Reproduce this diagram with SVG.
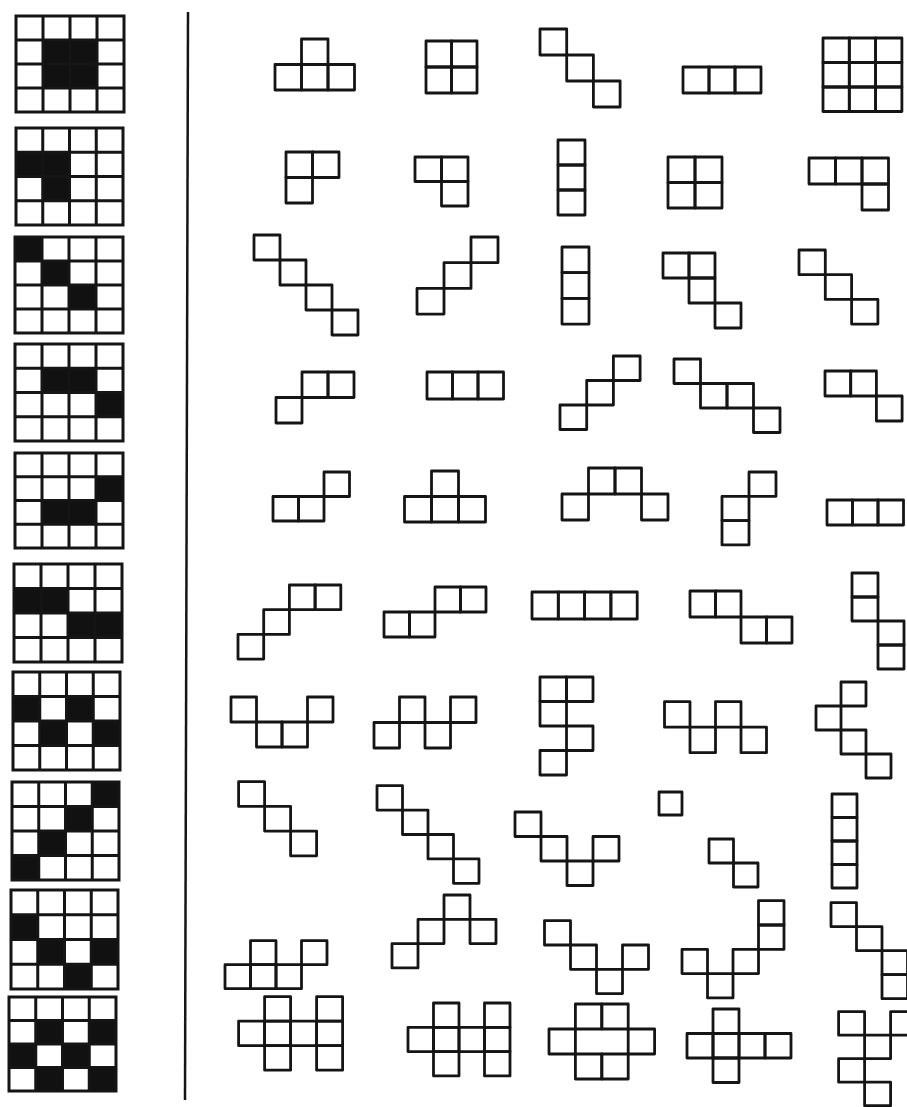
<svg xmlns="http://www.w3.org/2000/svg" width="907" height="1107" viewBox="0 0 907 1107">
<style>
.s{fill:none;stroke:#151515;stroke-width:2.8;vector-effect:non-scaling-stroke;stroke-linejoin:round}
.g{fill:none;stroke:#151515;stroke-width:3;vector-effect:non-scaling-stroke}
.b{fill:#111}
</style>
<defs>
<path id="gl" class="g" d="M0 0H4V4H0ZM1 0V4M2 0V4M3 0V4M0 1H4M0 2H4M0 3H4"/>
</defs>
<rect width="907" height="1107" fill="#fff"/>
<g id="grids">
<g id="g1" transform="translate(16,16) scale(27,24)"><rect class="b" x="1" y="1" width="2" height="2"/><use href="#gl"/></g>
<g id="g2" transform="translate(16,128) scale(26.75,24.25)"><rect class="b" x="0" y="1" width="2" height="1"/><rect class="b" x="1" y="2" width="1" height="1"/><use href="#gl"/></g>
<g id="g3" transform="translate(15,237) scale(27,24)"><rect class="b" x="0" y="0" width="1" height="1"/><rect class="b" x="1" y="1" width="1" height="1"/><rect class="b" x="2" y="2" width="1" height="1"/><use href="#gl"/></g>
<g id="g4" transform="translate(15,344) scale(27,24.25)"><rect class="b" x="1" y="1" width="2" height="1"/><rect class="b" x="3" y="2" width="1" height="1"/><use href="#gl"/></g>
<g id="g5" transform="translate(15,453) scale(27,23.75)"><rect class="b" x="3" y="1" width="1" height="1"/><rect class="b" x="1" y="2" width="2" height="1"/><use href="#gl"/></g>
<g id="g6" transform="translate(14,564) scale(27,24.5)"><rect class="b" x="0" y="1" width="2" height="1"/><rect class="b" x="2" y="2" width="2" height="1"/><use href="#gl"/></g>
<g id="g7" transform="translate(13,672) scale(26.75,24.5)"><rect class="b" x="0" y="1" width="1" height="1"/><rect class="b" x="2" y="1" width="1" height="1"/><rect class="b" x="1" y="2" width="1" height="1"/><rect class="b" x="3" y="2" width="1" height="1"/><use href="#gl"/></g>
<g id="g8" transform="translate(12,782) scale(26.75,24.5)"><rect class="b" x="3" y="0" width="1" height="1"/><rect class="b" x="2" y="1" width="1" height="1"/><rect class="b" x="1" y="2" width="1" height="1"/><rect class="b" x="0" y="3" width="1" height="1"/><use href="#gl"/></g>
<g id="g9" transform="translate(11,890) scale(26.75,24.75)"><rect class="b" x="0" y="1" width="1" height="1"/><rect class="b" x="1" y="2" width="1" height="1"/><rect class="b" x="3" y="2" width="1" height="1"/><rect class="b" x="2" y="3" width="1" height="1"/><use href="#gl"/></g>
<g id="g10" transform="translate(9,997) scale(26.75,23.5)"><rect class="b" x="1" y="1" width="1" height="1"/><rect class="b" x="3" y="1" width="1" height="1"/><rect class="b" x="0" y="2" width="1" height="1"/><rect class="b" x="2" y="2" width="1" height="1"/><rect class="b" x="1" y="3" width="1" height="1"/><rect class="b" x="3" y="3" width="1" height="1"/><use href="#gl"/></g>
</g>
<g id="divider"><line x1="188" y1="12" x2="185" y2="1100" stroke="#151515" stroke-width="2.5"/></g>
<g id="shapes">
<!-- row 1 -->
<g id="s1-1" transform="translate(275,39) scale(26.5,25.5)"><rect class="s" x="1" y="0" width="1" height="1"/><rect class="s" x="0" y="1" width="1" height="1"/><rect class="s" x="1" y="1" width="1" height="1"/><rect class="s" x="2" y="1" width="1" height="1"/></g>
<g id="s1-2" transform="translate(426,41) scale(25.5,26)"><rect class="s" x="0" y="0" width="1" height="1"/><rect class="s" x="1" y="0" width="1" height="1"/><rect class="s" x="0" y="1" width="1" height="1"/><rect class="s" x="1" y="1" width="1" height="1"/></g>
<g id="s1-3" transform="translate(540,29) scale(26.7,26)"><rect class="s" x="0" y="0" width="1" height="1"/><rect class="s" x="1" y="1" width="1" height="1"/><rect class="s" x="2" y="2" width="1" height="1"/></g>
<g id="s1-4" transform="translate(683,67) scale(26,26)"><rect class="s" x="0" y="0" width="1" height="1"/><rect class="s" x="1" y="0" width="1" height="1"/><rect class="s" x="2" y="0" width="1" height="1"/></g>
<g id="s1-5" transform="translate(823,38) scale(26.3,24.5)"><rect class="s" x="0" y="0" width="1" height="1"/><rect class="s" x="1" y="0" width="1" height="1"/><rect class="s" x="2" y="0" width="1" height="1"/><rect class="s" x="0" y="1" width="1" height="1"/><rect class="s" x="1" y="1" width="1" height="1"/><rect class="s" x="2" y="1" width="1" height="1"/><rect class="s" x="0" y="2" width="1" height="1"/><rect class="s" x="1" y="2" width="1" height="1"/><rect class="s" x="2" y="2" width="1" height="1"/></g>
<!-- row 2 -->
<g id="s2-1" transform="translate(286,152) scale(26.5,25.5)"><rect class="s" x="0" y="0" width="1" height="1"/><rect class="s" x="1" y="0" width="1" height="1"/><rect class="s" x="0" y="1" width="1" height="1"/></g>
<g id="s2-2" transform="translate(415,157) scale(26.5,24.5)"><rect class="s" x="0" y="0" width="1" height="1"/><rect class="s" x="1" y="0" width="1" height="1"/><rect class="s" x="1" y="1" width="1" height="1"/></g>
<g id="s2-3" transform="translate(558,140) scale(27,25)"><rect class="s" x="0" y="0" width="1" height="1"/><rect class="s" x="0" y="1" width="1" height="1"/><rect class="s" x="0" y="2" width="1" height="1"/></g>
<g id="s2-4" transform="translate(668,157) scale(27,25.5)"><rect class="s" x="0" y="0" width="1" height="1"/><rect class="s" x="1" y="0" width="1" height="1"/><rect class="s" x="0" y="1" width="1" height="1"/><rect class="s" x="1" y="1" width="1" height="1"/></g>
<g id="s2-5" transform="translate(809,158) scale(26.5,26)"><rect class="s" x="0" y="0" width="1" height="1"/><rect class="s" x="1" y="0" width="1" height="1"/><rect class="s" x="2" y="0" width="1" height="1"/><rect class="s" x="2" y="1" width="1" height="1"/></g>
<!-- row 3 -->
<g id="s3-1" transform="translate(254,235) scale(26,25)"><rect class="s" x="0" y="0" width="1" height="1"/><rect class="s" x="1" y="1" width="1" height="1"/><rect class="s" x="2" y="2" width="1" height="1"/><rect class="s" x="3" y="3" width="1" height="1"/></g>
<g id="s3-2" transform="translate(417,237) scale(27,25.7)"><rect class="s" x="2" y="0" width="1" height="1"/><rect class="s" x="1" y="1" width="1" height="1"/><rect class="s" x="0" y="2" width="1" height="1"/></g>
<g id="s3-3" transform="translate(562,247) scale(27,25.7)"><rect class="s" x="0" y="0" width="1" height="1"/><rect class="s" x="0" y="1" width="1" height="1"/><rect class="s" x="0" y="2" width="1" height="1"/></g>
<g id="s3-4" transform="translate(663,253) scale(26,25)"><rect class="s" x="0" y="0" width="1" height="1"/><rect class="s" x="1" y="0" width="1" height="1"/><rect class="s" x="1" y="1" width="1" height="1"/><rect class="s" x="2" y="2" width="1" height="1"/></g>
<g id="s3-5" transform="translate(799,250) scale(26.3,24.7)"><rect class="s" x="0" y="0" width="1" height="1"/><rect class="s" x="1" y="1" width="1" height="1"/><rect class="s" x="2" y="2" width="1" height="1"/></g>
<!-- row 4 -->
<g id="s4-1" transform="translate(276,372) scale(26,25.5)"><rect class="s" x="1" y="0" width="1" height="1"/><rect class="s" x="2" y="0" width="1" height="1"/><rect class="s" x="0" y="1" width="1" height="1"/></g>
<g id="s4-2" transform="translate(427,372) scale(25.5,27)"><rect class="s" x="0" y="0" width="1" height="1"/><rect class="s" x="1" y="0" width="1" height="1"/><rect class="s" x="2" y="0" width="1" height="1"/></g>
<g id="s4-3" transform="translate(560,356) scale(26.7,24.5)"><rect class="s" x="2" y="0" width="1" height="1"/><rect class="s" x="1" y="1" width="1" height="1"/><rect class="s" x="0" y="2" width="1" height="1"/></g>
<g id="s4-4" transform="translate(674,359) scale(26.5,24.5)"><rect class="s" x="0" y="0" width="1" height="1"/><rect class="s" x="1" y="1" width="1" height="1"/><rect class="s" x="2" y="1" width="1" height="1"/><rect class="s" x="3" y="2" width="1" height="1"/></g>
<g id="s4-5" transform="translate(825,371) scale(25.7,25)"><rect class="s" x="0" y="0" width="1" height="1"/><rect class="s" x="1" y="0" width="1" height="1"/><rect class="s" x="2" y="1" width="1" height="1"/></g>
<!-- row 5 -->
<g id="s5-1" transform="translate(273,472) scale(25.5,24.5)"><rect class="s" x="2" y="0" width="1" height="1"/><rect class="s" x="0" y="1" width="1" height="1"/><rect class="s" x="1" y="1" width="1" height="1"/></g>
<g id="s5-2" transform="translate(404.5,471) scale(27,25.5)"><rect class="s" x="1" y="0" width="1" height="1"/><rect class="s" x="0" y="1" width="1" height="1"/><rect class="s" x="1" y="1" width="1" height="1"/><rect class="s" x="2" y="1" width="1" height="1"/></g>
<g id="s5-3" transform="translate(562,468) scale(26.5,26)"><rect class="s" x="1" y="0" width="1" height="1"/><rect class="s" x="2" y="0" width="1" height="1"/><rect class="s" x="0" y="1" width="1" height="1"/><rect class="s" x="3" y="1" width="1" height="1"/></g>
<g id="s5-4" transform="translate(722,472) scale(27,24.3)"><rect class="s" x="1" y="0" width="1" height="1"/><rect class="s" x="0" y="1" width="1" height="1"/><rect class="s" x="0" y="2" width="1" height="1"/></g>
<g id="s5-5" transform="translate(827,500) scale(25.5,25)"><rect class="s" x="0" y="0" width="1" height="1"/><rect class="s" x="1" y="0" width="1" height="1"/><rect class="s" x="2" y="0" width="1" height="1"/></g>
<!-- row 6 -->
<g id="s6-1" transform="translate(238,585) scale(25.7,24.7)"><rect class="s" x="2" y="0" width="1" height="1"/><rect class="s" x="3" y="0" width="1" height="1"/><rect class="s" x="1" y="1" width="1" height="1"/><rect class="s" x="0" y="2" width="1" height="1"/></g>
<g id="s6-2" transform="translate(384,587) scale(25.5,25)"><rect class="s" x="2" y="0" width="1" height="1"/><rect class="s" x="3" y="0" width="1" height="1"/><rect class="s" x="0" y="1" width="1" height="1"/><rect class="s" x="1" y="1" width="1" height="1"/></g>
<g id="s6-3" transform="translate(532,592) scale(26.3,27)"><rect class="s" x="0" y="0" width="1" height="1"/><rect class="s" x="1" y="0" width="1" height="1"/><rect class="s" x="2" y="0" width="1" height="1"/><rect class="s" x="3" y="0" width="1" height="1"/></g>
<g id="s6-4" transform="translate(690,591) scale(25.5,26)"><rect class="s" x="0" y="0" width="1" height="1"/><rect class="s" x="1" y="0" width="1" height="1"/><rect class="s" x="2" y="1" width="1" height="1"/><rect class="s" x="3" y="1" width="1" height="1"/></g>
<g id="s6-5" transform="translate(852,573) scale(26,24)"><rect class="s" x="0" y="0" width="1" height="1"/><rect class="s" x="0" y="1" width="1" height="1"/><rect class="s" x="1" y="2" width="1" height="1"/><rect class="s" x="1" y="3" width="1" height="1"/></g>
<!-- row 7 -->
<g id="s7-1" transform="translate(231,697) scale(25.5,25)"><rect class="s" x="0" y="0" width="1" height="1"/><rect class="s" x="1" y="1" width="1" height="1"/><rect class="s" x="2" y="1" width="1" height="1"/><rect class="s" x="3" y="0" width="1" height="1"/></g>
<g id="s7-2" transform="translate(374,697) scale(25.5,25.5)"><rect class="s" x="0" y="1" width="1" height="1"/><rect class="s" x="1" y="0" width="1" height="1"/><rect class="s" x="2" y="1" width="1" height="1"/><rect class="s" x="3" y="0" width="1" height="1"/></g>
<g id="s7-3" transform="translate(540,677) scale(26.5,24.5)"><rect class="s" x="0" y="0" width="1" height="1"/><rect class="s" x="1" y="0" width="1" height="1"/><rect class="s" x="0" y="1" width="1" height="1"/><rect class="s" x="1" y="2" width="1" height="1"/><rect class="s" x="0" y="3" width="1" height="1"/></g>
<g id="s7-4" transform="translate(664.5,701.7) scale(25.5,25.5)"><rect class="s" x="0" y="0" width="1" height="1"/><rect class="s" x="1" y="1" width="1" height="1"/><rect class="s" x="2" y="0" width="1" height="1"/><rect class="s" x="3" y="1" width="1" height="1"/></g>
<g id="s7-5" transform="translate(816,682) scale(25,24)"><rect class="s" x="1" y="0" width="1" height="1"/><rect class="s" x="0" y="1" width="1" height="1"/><rect class="s" x="1" y="2" width="1" height="1"/><rect class="s" x="2" y="3" width="1" height="1"/></g>
<!-- row 8 -->
<g id="s8-1" transform="translate(238.6,781.7) scale(26,24.7)"><rect class="s" x="0" y="0" width="1" height="1"/><rect class="s" x="1" y="1" width="1" height="1"/><rect class="s" x="2" y="2" width="1" height="1"/></g>
<g id="s8-2" transform="translate(377,785.7) scale(25.5,24.4)"><rect class="s" x="0" y="0" width="1" height="1"/><rect class="s" x="1" y="1" width="1" height="1"/><rect class="s" x="2" y="2" width="1" height="1"/><rect class="s" x="3" y="3" width="1" height="1"/></g>
<g id="s8-3" transform="translate(515,812) scale(26,24.5)"><rect class="s" x="0" y="0" width="1" height="1"/><rect class="s" x="1" y="1" width="1" height="1"/><rect class="s" x="2" y="2" width="1" height="1"/><rect class="s" x="3" y="1" width="1" height="1"/></g>
<g id="s8-4"><rect class="s" x="659" y="792" width="23" height="23"/></g>
<g id="s8-5" transform="translate(709,839) scale(24.5,24)"><rect class="s" x="0" y="0" width="1" height="1"/><rect class="s" x="1" y="1" width="1" height="1"/></g>
<g id="s8-6" transform="translate(832,794) scale(25,23.5)"><rect class="s" x="0" y="0" width="1" height="1"/><rect class="s" x="0" y="1" width="1" height="1"/><rect class="s" x="0" y="2" width="1" height="1"/><rect class="s" x="0" y="3" width="1" height="1"/></g>
<!-- row 9 -->
<g id="s9-1" transform="translate(225,940.7) scale(25.5,24)"><rect class="s" x="1" y="0" width="1" height="1"/><rect class="s" x="3" y="0" width="1" height="1"/><rect class="s" x="0" y="1" width="1" height="1"/><rect class="s" x="1" y="1" width="1" height="1"/><rect class="s" x="2" y="1" width="1" height="1"/></g>
<g id="s9-2" transform="translate(392,895) scale(26,24.3)"><rect class="s" x="2" y="0" width="1" height="1"/><rect class="s" x="1" y="1" width="1" height="1"/><rect class="s" x="3" y="1" width="1" height="1"/><rect class="s" x="0" y="2" width="1" height="1"/></g>
<g id="s9-3" transform="translate(544.5,920.7) scale(26,24.3)"><rect class="s" x="0" y="0" width="1" height="1"/><rect class="s" x="1" y="1" width="1" height="1"/><rect class="s" x="2" y="2" width="1" height="1"/><rect class="s" x="3" y="1" width="1" height="1"/></g>
<g id="s9-4" transform="translate(682,900.7) scale(25.5,24.3)"><rect class="s" x="3" y="0" width="1" height="1"/><rect class="s" x="3" y="1" width="1" height="1"/><rect class="s" x="2" y="2" width="1" height="1"/><rect class="s" x="1" y="3" width="1" height="1"/><rect class="s" x="0" y="2" width="1" height="1"/></g>
<g id="s9-5" transform="translate(831,902.7) scale(25.5,24)"><rect class="s" x="0" y="0" width="1" height="1"/><rect class="s" x="1" y="1" width="1" height="1"/><rect class="s" x="2" y="2" width="1" height="1"/><rect class="s" x="2" y="3" width="1" height="1"/></g>
<!-- row 10 -->
<g id="s10-1" transform="translate(238.6,996.7) scale(26,24.5)"><rect class="s" x="1" y="0" width="1" height="1"/><rect class="s" x="3" y="0" width="1" height="1"/><rect class="s" x="0" y="1" width="1" height="1"/><rect class="s" x="1" y="1" width="1" height="1"/><rect class="s" x="2" y="1" width="1" height="1"/><rect class="s" x="3" y="1" width="1" height="1"/><rect class="s" x="1" y="2" width="1" height="1"/><rect class="s" x="3" y="2" width="1" height="1"/></g>
<g id="s10-2" transform="translate(408,1003) scale(25.5,24.3)"><rect class="s" x="1" y="0" width="1" height="1"/><rect class="s" x="3" y="0" width="1" height="1"/><rect class="s" x="0" y="1" width="1" height="1"/><rect class="s" x="1" y="1" width="1" height="1"/><rect class="s" x="2" y="1" width="1" height="1"/><rect class="s" x="3" y="1" width="1" height="1"/><rect class="s" x="1" y="2" width="1" height="1"/><rect class="s" x="3" y="2" width="1" height="1"/></g>
<g id="s10-3" transform="translate(549,1004) scale(26.4,25)"><rect class="s" x="1" y="0" width="1" height="1"/><rect class="s" x="2" y="0" width="1" height="1"/><rect class="s" x="0" y="1" width="1" height="1"/><rect class="s" x="3" y="1" width="1" height="1"/><rect class="s" x="1" y="2" width="1" height="1"/><rect class="s" x="2" y="2" width="1" height="1"/></g>
<g id="s10-4" transform="translate(687,1009) scale(26,24.5)"><rect class="s" x="1" y="0" width="1" height="1"/><rect class="s" x="0" y="1" width="1" height="1"/><rect class="s" x="1" y="1" width="1" height="1"/><rect class="s" x="2" y="1" width="1" height="1"/><rect class="s" x="3" y="1" width="1" height="1"/><rect class="s" x="1" y="2" width="1" height="1"/></g>
<g id="s10-5" transform="translate(838.6,1011.7) scale(26,23.5)"><rect class="s" x="0" y="0" width="1" height="1"/><rect class="s" x="2" y="0" width="1" height="1"/><rect class="s" x="1" y="1" width="1" height="1"/><rect class="s" x="0" y="2" width="1" height="1"/><rect class="s" x="1" y="3" width="1" height="1"/></g>
</g>
</svg>
